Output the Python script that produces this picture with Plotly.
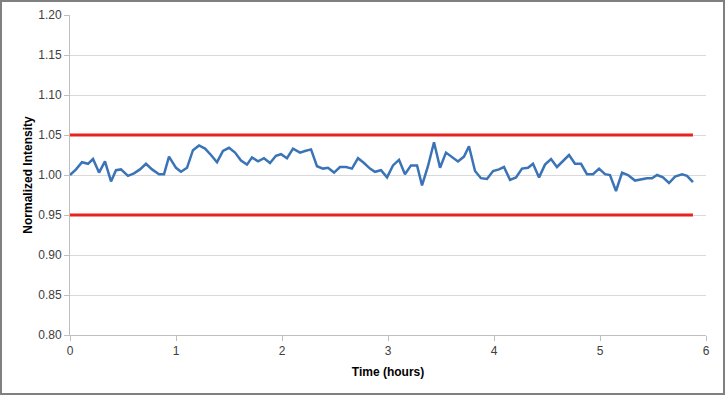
import plotly.graph_objects as go

time_hours = [0.000, 0.057, 0.113, 0.170, 0.217, 0.274, 0.330, 0.387, 0.434, 0.481,
              0.547, 0.604, 0.660, 0.717, 0.774, 0.840, 0.887, 0.934, 1.000, 1.047,
              1.104, 1.160, 1.217, 1.274, 1.330, 1.387, 1.443, 1.500, 1.557, 1.613,
              1.670, 1.717, 1.774, 1.830, 1.887, 1.943, 1.991, 2.047, 2.104, 2.170,
              2.217, 2.274, 2.330, 2.387, 2.434, 2.491, 2.547, 2.604, 2.660, 2.717,
              2.774, 2.830, 2.877, 2.934, 2.991, 3.047, 3.104, 3.160, 3.217, 3.274,
              3.321, 3.377, 3.434, 3.491, 3.547, 3.604, 3.660, 3.717, 3.764, 3.821,
              3.877, 3.934, 3.991, 4.047, 4.094, 4.151, 4.208, 4.264, 4.321, 4.368,
              4.425, 4.481, 4.538, 4.594, 4.651, 4.708, 4.764, 4.821, 4.877, 4.934,
              4.991, 5.047, 5.094, 5.151, 5.208, 5.264, 5.330, 5.387, 5.443, 5.491,
              5.538, 5.594, 5.651, 5.708, 5.774, 5.821, 5.877]

intensity = [1.000, 1.007, 1.016, 1.014, 1.020, 1.003, 1.017, 0.992, 1.006, 1.007,
             0.999, 1.002, 1.007, 1.014, 1.007, 1.001, 1.001, 1.023, 1.009, 1.004,
             1.009, 1.031, 1.037, 1.033, 1.025, 1.016, 1.030, 1.034, 1.028, 1.018,
             1.013, 1.022, 1.017, 1.021, 1.015, 1.024, 1.026, 1.021, 1.033, 1.028,
             1.030, 1.032, 1.011, 1.008, 1.009, 1.003, 1.010, 1.010, 1.008, 1.021,
             1.015, 1.008, 1.004, 1.006, 0.997, 1.012, 1.019, 1.001, 1.012, 1.012,
             0.987, 1.011, 1.041, 1.009, 1.028, 1.023, 1.017, 1.023, 1.036, 1.005,
             0.996, 0.995, 1.005, 1.007, 1.010, 0.994, 0.997, 1.008, 1.009, 1.014,
             0.997, 1.013, 1.020, 1.010, 1.018, 1.025, 1.014, 1.014, 1.001, 1.001,
             1.008, 1.001, 1.000, 0.980, 1.003, 1.000, 0.993, 0.995, 0.996, 0.996,
             1.000, 0.997, 0.990, 0.998, 1.001, 0.999, 0.991]

limit_time = [0.0, 5.877]
upper_limit = [1.05, 1.05]
lower_limit = [0.95, 0.95]

y_ticks = [0.80, 0.85, 0.90, 0.95, 1.00, 1.05, 1.10, 1.15, 1.20]
x_ticks = [0, 1, 2, 3, 4, 5, 6]

fig = go.Figure()
fig.add_trace(go.Scatter(x=limit_time, y=upper_limit, mode="lines",
                         line=dict(color="#E8231F", width=3), showlegend=False))
fig.add_trace(go.Scatter(x=limit_time, y=lower_limit, mode="lines",
                         line=dict(color="#E8231F", width=3), showlegend=False))
fig.add_trace(go.Scatter(x=time_hours, y=intensity, mode="lines",
                         line=dict(color="#3B73B7", width=2.5), showlegend=False))

W, H = 725, 395
ml, mr, mt, mb = 70, 19, 15, 60
pw, ph = W - ml - mr, H - mt - mb

fig.update_layout(
    width=W, height=H,
    margin=dict(l=ml, r=mr, t=mt, b=mb, autoexpand=False),
    paper_bgcolor="white", plot_bgcolor="white",
    font=dict(family="Liberation Sans, Arial, sans-serif", size=12, color="#404040"),
    xaxis=dict(range=[0, 6], tickvals=x_ticks, ticktext=[str(v) for v in x_ticks],
               automargin=False,
               showgrid=False, zeroline=False, showline=True, linecolor="#BFBFBF",
               linewidth=1, ticks="outside", ticklen=5, tickcolor="#BFBFBF",
               title=dict(text="<b>Time (hours)</b>", font=dict(size=12, color="#000000"),
                          standoff=10)),
    yaxis=dict(range=[0.80, 1.20], tickvals=y_ticks,
               ticktext=["%.2f" % v for v in y_ticks],
               automargin=False,
               showgrid=True, gridcolor="#D9D9D9", gridwidth=1, zeroline=False,
               showline=True, linecolor="#BFBFBF", linewidth=1,
               ticks="outside", ticklen=5, tickcolor="#BFBFBF",
               title=dict(text="<b>Normalized Intensity</b>", font=dict(size=12, color="#000000"),
                          standoff=3)),
    shapes=[dict(type="rect", xref="paper", yref="paper",
                 x0=(-ml + 1) / pw, x1=(pw + mr - 1) / pw,
                 y0=(-mb + 1) / ph, y1=(ph + mt - 1) / ph,
                 line=dict(color="#808080", width=2), fillcolor="rgba(0,0,0,0)",
                 layer="below")],
)

fig.write_html("out.html", config={"displayModeBar": False},
               post_script="document.body.style.margin='0';document.body.style.overflow='hidden';")
